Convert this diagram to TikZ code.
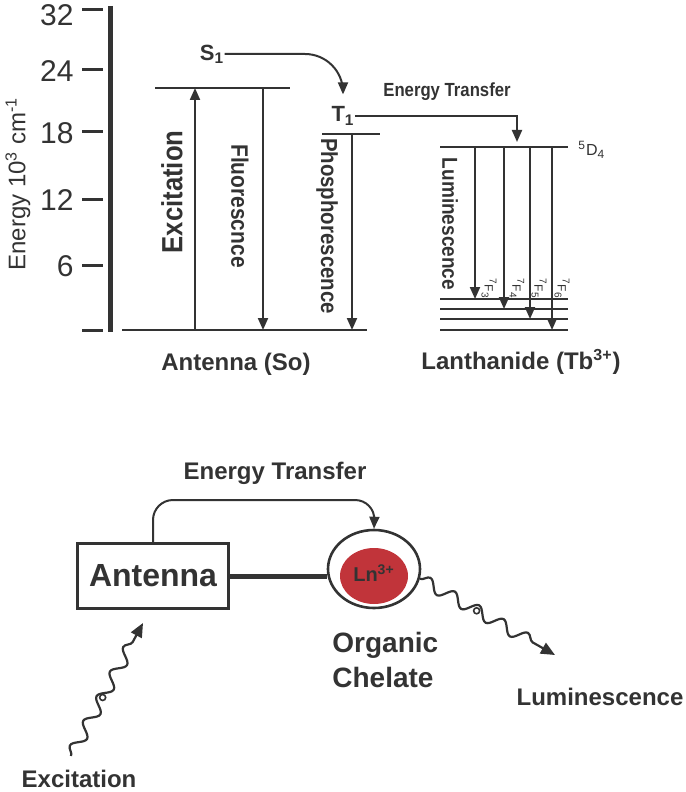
\documentclass[tikz,border=0pt]{standalone}
\usepackage{fontspec}
\setmainfont{Liberation Sans}
\newfontfamily\narrowfont{Liberation Sans}[FakeStretch=0.88]
\usepackage{xcolor}
\usepackage{tikz}
\usetikzlibrary{shapes.geometric, arrows.meta, positioning, calc, decorations.pathmorphing}
\definecolor{ink}{HTML}{333333}
\definecolor{lnred}{HTML}{C1343A}

\begin{document}
\begin{tikzpicture}[
    x=0.5pt, y=-0.5pt,
    every node/.style={text=ink, inner sep=0pt},
    level/.style={draw=ink, line width=1.4pt},
    trans/.style={draw=ink, line width=1pt, -{Triangle[length=6pt,width=5pt]}},
    wavy/.style={draw=ink, line width=1.1pt, -{Triangle[length=7pt,width=6pt]},
        decorate, decoration={snake, amplitude=3pt, segment length=14pt, post length=7pt}},
    bold/.style={font=\bfseries\fontsize{#1}{#1}\selectfont},
    narrow/.style={font=\narrowfont\bfseries\fontsize{#1}{#1}\selectfont},
    plain/.style={font=\fontsize{#1}{#1}\selectfont}
]
\useasboundingbox (0,0) rectangle (685,792);

% Energy axis
\draw[ink, line width=2.5pt] (110,6) -- (110,332);
\foreach \y/\v in {10/32, 70/24, 132/18, 199/12, 265/6, 330/} {
    \draw[ink, line width=1.5pt] (82,\y) -- (103,\y);
}
\foreach \y/\v in {15/32, 71/24, 133/18, 200/12, 266/6} {
    \node[plain=15, anchor=east] at (74,\y) {\v};
}
\node[plain=12, rotate=90] (axlabel) at (18,184) {Energy 10\textsuperscript{3} cm\textsuperscript{-1}};

% Antenna levels
\draw[level] (155,88) -- (290,88);
\draw[level] (122,330) -- (367,330);
\draw[level] (322,134) -- (380,134);
\node[bold=11] (s1) at (212,54) {S\textsubscript{1}};
\node[bold=11] (t1) at (343,116) {T\textsubscript{1}};

\draw[trans] (195,330) -- (195,88);
\draw[trans] (263,88) -- (263,330);
\draw[trans] (352,134) -- (352,330);
\node[narrow=14.6, rotate=90] at (172,192) {Excitation};
\node[narrow=11.9, rotate=-90] at (240,206) {Fluorescnce};
\node[narrow=11.6, rotate=-90] at (327,226) {Phosphorescence};

% Intersystem crossing and transfer
\draw[trans, rounded corners=19pt, shorten >=6pt] (s1.east) -| (t1.north);
\coordinate (d4top) at (517,147);
\draw[trans, shorten >=2.5pt] (t1.east) -| (d4top);
\node[narrow=9.5] (et1) at (447,92) {Energy Transfer};

% Lanthanide levels
\draw[level] (440,147) -- (568,147);
\node[plain=8, anchor=west] (d4) at (578,150) {\textsuperscript{5}D\textsubscript{4}};
\foreach \y in {299,309,319,330} {
    \draw[level] (440,\y) -- (568,\y);
}
\foreach \x/\y/\n/\lx in {475/299/3/489, 504/309/4/517, 530/319/5/539, 552/330/6/562} {
    \draw[trans] (\x,147) -- (\x,\y);
    \node[plain=6, rotate=-90, anchor=west] at (\lx,278) {\textsuperscript{7}F\textsubscript{\n}};
}
\node[narrow=10.8, rotate=-90] at (450,224) {Luminescence};

\node[bold=12] (so) at (236,364) {Antenna (So)};
\node[bold=12] (tb) at (521,362) {Lanthanide (Tb\textsuperscript{3+})};

% Chelate scheme
\node[draw=ink, line width=1.3pt, minimum width=75.5pt, minimum height=32.5pt, bold=16] (antenna) at (153,576) {Antenna};
\node[ellipse, draw=ink, line width=1.3pt, minimum width=46pt, minimum height=39pt] (chelate) at (374,569) {};
\node[ellipse, fill=lnred, minimum width=34pt, minimum height=28pt] (ln) at (374,576) {};
\node[bold=10] (lnlabel) at (374,573) {Ln\textsuperscript{3+}};
\draw[ink, line width=2.5pt] (antenna.east) -- (antenna.east -| chelate.west);

\coordinate (etcorner) at (375,500);
\draw[trans] (antenna.north) [rounded corners=10pt] |- (etcorner) [sharp corners] -- (chelate.north);
\node[bold=12] (et2) at (275,473) {Energy Transfer};

\node[font=\bfseries\fontsize{14}{17.5}\selectfont, align=left, anchor=west] (org) at (332,660) {Organic\\Chelate};

% Photons
\coordinate (xin) at (71,756);
\coordinate (xout) at (143,623);
\draw[wavy] (xin) -- (xout);
\draw[ink, line width=0.8pt] ($(xin)!0.44!(xout)$) circle (1.5pt);
\node[bold=12] (xlabel) at (79,779) {Excitation};

\coordinate (lout) at (555,655);
\draw[wavy] (chelate.-12) -- (lout);
\draw[ink, line width=0.8pt] ($(chelate.-12)!0.42!(lout)$) circle (1.5pt);
\node[bold=12] (llabel) at (600,697) {Luminescence};

\end{tikzpicture}
\end{document}
